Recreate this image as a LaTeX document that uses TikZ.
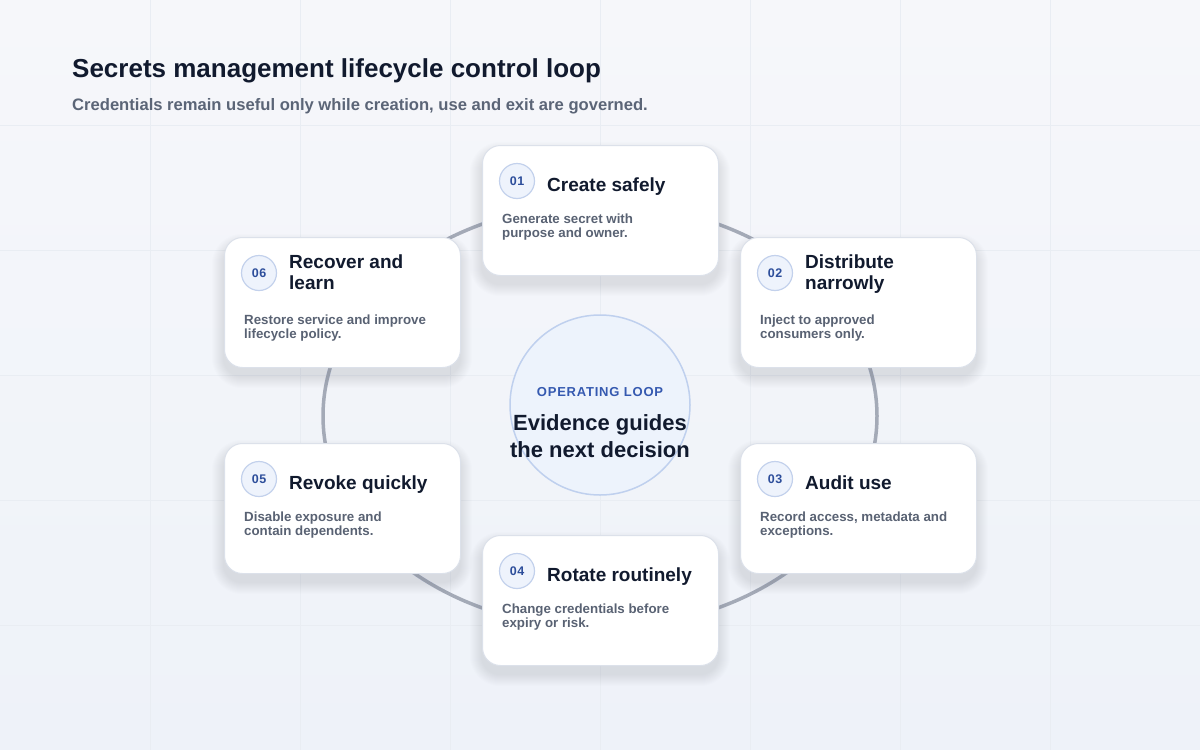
\documentclass[tikz,border=0pt]{standalone}
\usepackage{fontspec}
\setmainfont{Liberation Sans}
\definecolor{bgtop}{HTML}{F6F7FA}
\definecolor{bgbot}{HTML}{EEF2F9}
\definecolor{gridc}{HTML}{E9EDF3}
\definecolor{ink}{HTML}{111A2E}
\definecolor{subink}{HTML}{5B6577}
\definecolor{muted}{HTML}{596273}
\definecolor{cardline}{HTML}{DCE1EA}
\definecolor{ringc}{HTML}{A4AAB7}
\definecolor{badgefill}{HTML}{EEF3FC}
\definecolor{badgeline}{HTML}{C3D1EC}
\definecolor{badgetext}{HTML}{2D4E9B}
\definecolor{hubfill}{HTML}{EDF3FC}
\definecolor{hubline}{HTML}{BFD0EE}
\definecolor{hubtag}{HTML}{3559B0}
\definecolor{shadowc}{HTML}{5A6A8A}

\newcommand\mkcard[8]{%
  \begin{scope}[shift={(#2,#3)}]
    \foreach \s in {1,...,12}
      \fill[shadowc, opacity=0.011, rounded corners=18pt+\s pt]
        (-\s,9-\s) rectangle (236+\s,139+\s);
    \node[card] (#1) at (0,0) {};
    \node[badge] (#1n) at (35,36) {#4};
    \node[ctitle] (#1t) at (65,#7) {#5};
    \node[cdesc] (#1d) at (20,#8) {#6};
  \end{scope}}

\begin{document}
\begin{tikzpicture}[x=1pt,y=-1pt,
  card/.style={draw=cardline, line width=1pt, fill=white, rounded corners=18pt,
    minimum width=236pt, minimum height=130pt, inner sep=0pt, anchor=north west},
  badge/.style={circle, draw=badgeline, fill=badgefill, line width=1.2pt, minimum size=35pt,
    inner sep=0pt, text=badgetext, font=\fontsize{12.5}{12.5}\selectfont\bfseries\addfontfeatures{LetterSpace=4}},
  ctitle/.style={anchor=base west, align=left, text=ink, inner sep=0pt,
    font=\fontsize{19}{21}\selectfont\bfseries},
  cdesc/.style={anchor=base west, align=left, text=muted, inner sep=0pt,
    font=\fontsize{13.3}{14}\selectfont\bfseries},
  ring/.style={draw=ringc, line width=3.5pt},
  hub/.style={circle, draw=hubline, fill=hubfill, line width=1.5pt, minimum size=180pt, inner sep=0pt},
  gridline/.style={draw=gridc, line width=1pt}]
\useasboundingbox (0,0) rectangle (1200,750);
\shade[top color=bgtop, bottom color=bgbot] (0,0) rectangle (1200,750);
\foreach \x in {150,300,...,1050} \draw[gridline] (\x,0) -- (\x,750);
\foreach \y in {125,250,...,625} \draw[gridline] (0,\y) -- (1200,\y);

\node[anchor=base west, inner sep=0pt, text=ink, font=\fontsize{26}{30}\selectfont\bfseries] (title) at (72,77)
  {Secrets management lifecycle control loop};
\node[anchor=base west, inner sep=0pt, text=subink, font=\fontsize{16.6}{18}\selectfont\bfseries] (subtitle) at (72,110)
  {Credentials remain useful only while creation, use and exit are governed.};

\draw[ring] (600,416) ellipse [x radius=277pt, y radius=212pt];

\node[hub] (hub) at (600,405) {};
\node[text=hubtag, font=\fontsize{13}{13}\selectfont\bfseries\addfontfeatures{LetterSpace=6}] (hubtag) at (600,392) {OPERATING LOOP};
\node[align=center, text=ink, font=\fontsize{22}{27}\selectfont\bfseries] (hubtext) at (600,436) {Evidence guides\\the next decision};

\mkcard{c1}{482}{145}{01}{Create safely}{Generate secret with\\purpose and owner.}{46.5}{92.5}
\mkcard{c2}{740}{237}{02}{Distribute\\narrowly}{Inject to approved\\consumers only.}{52}{101.5}
\mkcard{c3}{740}{443}{03}{Audit use}{Record access, metadata and\\exceptions.}{46.5}{92.5}
\mkcard{c4}{482}{535}{04}{Rotate routinely}{Change credentials before\\expiry or risk.}{46.5}{92.5}
\mkcard{c5}{224}{443}{05}{Revoke quickly}{Disable exposure and\\contain dependents.}{46.5}{92.5}
\mkcard{c6}{224}{237}{06}{Recover and\\learn}{Restore service and improve\\lifecycle policy.}{52}{101.5}
\end{tikzpicture}
\end{document}
